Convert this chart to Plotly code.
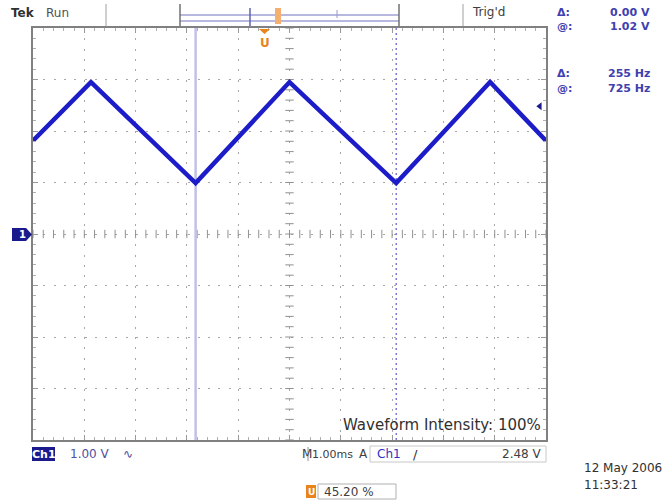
import numpy as np
import plotly.graph_objects as go

wave_t_ms = [-5.0, -3.87, -1.83, 0.0, 2.08, 3.91, 5.0]
wave_v = [1.81, 2.95, 0.99, 2.95, 0.99, 2.95, 1.81]
cursor_t_ms = [-1.83, 2.08]
trig_level_v = 2.48
readout_labels = ["Δ:", "@:", "Δ:", "@:"]
readout_values = ["0.00 V", "1.02 V", "255 Hz", "725 Hz"]

W, H = 666, 502
L, R, T, B = 33, 546, 28, 440


def px(x):
    return (x - L) / (R - L)


def py(y):
    return (B - y) / (B - T)


BLUE = "#1c1cc8"
NAVY = "#1a1a8c"
ORANGE = "#e8841a"
GRAY = "#808080"
FONT = "DejaVu Sans"

fig = go.Figure()

# center-line tick marks
minor = np.round(np.arange(-5, 5.001, 0.2), 2)
minor_v = np.round(np.arange(-4, 4.001, 0.2), 2)
fig.add_trace(go.Scatter(x=minor, y=[0] * len(minor), mode="markers",
                         marker=dict(symbol="line-ns-open", size=6, color="#909090",
                                     line=dict(width=1, color="#909090")),
                         hoverinfo="skip", showlegend=False))
fig.add_trace(go.Scatter(x=[0] * len(minor_v), y=minor_v, mode="markers",
                         marker=dict(symbol="line-ew-open", size=6, color="#909090",
                                     line=dict(width=1, color="#909090")),
                         hoverinfo="skip", showlegend=False))

# cursors
fig.add_trace(go.Scatter(x=[cursor_t_ms[0]] * 2, y=[-4, 4], mode="lines",
                         line=dict(color="#c0c0e8", width=2.5),
                         hoverinfo="skip", showlegend=False))
fig.add_trace(go.Scatter(x=[cursor_t_ms[1]] * 2, y=[-4, 4], mode="lines",
                         line=dict(color="#5a5ad0", width=1.2, dash="2px,3px"),
                         hoverinfo="skip", showlegend=False))

# waveform
fig.add_trace(go.Scatter(x=wave_t_ms, y=wave_v, mode="lines",
                         line=dict(color=BLUE, width=4.5),
                         hoverinfo="skip", showlegend=False))

# trigger level marker
fig.add_trace(go.Scatter(x=[4.88], y=[trig_level_v], mode="markers",
                         marker=dict(symbol="triangle-left", size=7, color=NAVY),
                         hoverinfo="skip", showlegend=False, cliponaxis=False))

axis_common = dict(showline=True, linecolor=GRAY, linewidth=2, mirror="ticks",
                   ticks="inside", ticklen=5, tickcolor="#9a9a9a", tickwidth=1,
                   showticklabels=False, zeroline=False, showgrid=True,
                   gridcolor="#a8a8a8", gridwidth=1, griddash="2px,8.3px", dtick=1,
                   minor=dict(dtick=0.2, ticks="inside", ticklen=3, tickcolor="#b0b0b0",
                              showgrid=False))
fig.update_xaxes(range=[-5, 5], **axis_common)
fig.update_yaxes(range=[-4, 4], **axis_common)

shapes = []


def hline(x0, x1, y, color, width=1):
    shapes.append(dict(type="line", xref="paper", yref="paper", x0=px(x0), x1=px(x1),
                       y0=py(y), y1=py(y), line=dict(color=color, width=width)))


def vline(x, y0, y1, color, width=1):
    shapes.append(dict(type="line", xref="paper", yref="paper", x0=px(x), x1=px(x),
                       y0=py(y0), y1=py(y1), line=dict(color=color, width=width)))


def rect(x0, y0, x1, y1, fill, line_color=None, width=1):
    shapes.append(dict(type="rect", xref="paper", yref="paper", x0=px(x0), x1=px(x1),
                       y0=py(y1), y1=py(y0), fillcolor=fill,
                       line=dict(color=line_color or fill, width=width if line_color else 0)))


def poly(points, fill):
    path = "M " + " L ".join("{},{}".format(px(a), py(b)) for a, b in points) + " Z"
    shapes.append(dict(type="path", xref="paper", yref="paper", path=path,
                       fillcolor=fill, line=dict(width=0)))


# top status bar
vline(106, 4, 26, "#a0a0a0")
hline(180, 399, 15, "#7070c0", 1)
hline(180, 399, 21, "#7070c0", 1)
vline(180, 4, 26, "#707070", 1.5)
vline(250, 8, 26, "#6060b0", 1.5)
vline(399, 4, 26, "#707070", 1.5)
vline(337, 10, 18, "#9a9ad0", 1)
vline(463, 4, 26, "#a0a0a0")
rect(275, 8, 281, 24, "#f3b070")

# orange trigger-position marker triangle
poly([(259, 29), (270, 29), (264.5, 34)], ORANGE)

# bottom boxes
rect(32, 447, 55, 461, NAVY)
vline(308, 447, 461, "#909090")
rect(370, 446, 546, 462, "rgba(0,0,0,0)", "#c8c8c8", 1)
rect(306, 485, 316, 498, ORANGE)
rect(318, 484, 396, 499, "rgba(0,0,0,0)", "#b0b0b0", 1)

# ground marker pentagon
poly([(12, 228), (26, 228), (32, 234.5), (26, 241), (12, 241)], NAVY)

ann = []


def text(x, y, s, color="#404040", size=11, anchor="left", bold=False, family=FONT):
    if bold:
        s = "<b>" + s + "</b>"
    ann.append(dict(x=px(x), y=py(y), xref="paper", yref="paper", text=s, showarrow=False,
                    xanchor=anchor, yanchor="middle",
                    font=dict(color=color, size=size, family=family)))


text(9, 13, "Tek", "#303030", 12, bold=True)
text(44, 13, "Run", "#505050", 12)
text(470, 12, "Trig'd", "#404040", 12)
text(264.5, 43, "U", ORANGE, 12, anchor="center", bold=True)
text(22, 234.5, "1", "white", 10, anchor="center", bold=True)

ys = [12, 27, 74, 88]
for lab, val, y in zip(readout_labels, readout_values, ys):
    text(555, y, lab, "#4040b0", 11, bold=True)
    text(652, y, val, "#4040b0", 11, anchor="right", bold=True)

text(543, 425, "Waveform Intensity: 100%", "#303030", 15, anchor="right")
text(43.5, 454, "Ch1", "white", 11, anchor="center", bold=True)
text(68, 454, "1.00 V", "#5050a0", 12)
text(121, 454, "∿", "#5050a0", 12)
text(300, 454, "M", "#404040", 12)
text(310, 454, "1.00ms", "#404040", 11)
text(357, 454, "A", "#404040", 12)
text(375, 454, "Ch1", "#3030c0", 12)
text(411, 454, "/", "#303030", 13)
text(544, 454, "2.48 V", "#404040", 12, anchor="right")
text(311, 491.5, "U", "white", 9, anchor="center", bold=True)
text(322, 491.5, "45.20 %", "#404040", 12)
text(582, 468, "12 May 2006", "#303030", 12)
text(582, 485, "11:33:21", "#303030", 12)

fig.update_layout(width=W, height=H, margin=dict(l=L, r=W - R, t=T, b=H - B),
                  paper_bgcolor="white", plot_bgcolor="white",
                  shapes=shapes, annotations=ann, showlegend=False)

fig.write_html("out.html", config={"displayModeBar": False},
               post_script="document.body.style.margin='0';"
               "document.body.style.overflow='hidden';")
